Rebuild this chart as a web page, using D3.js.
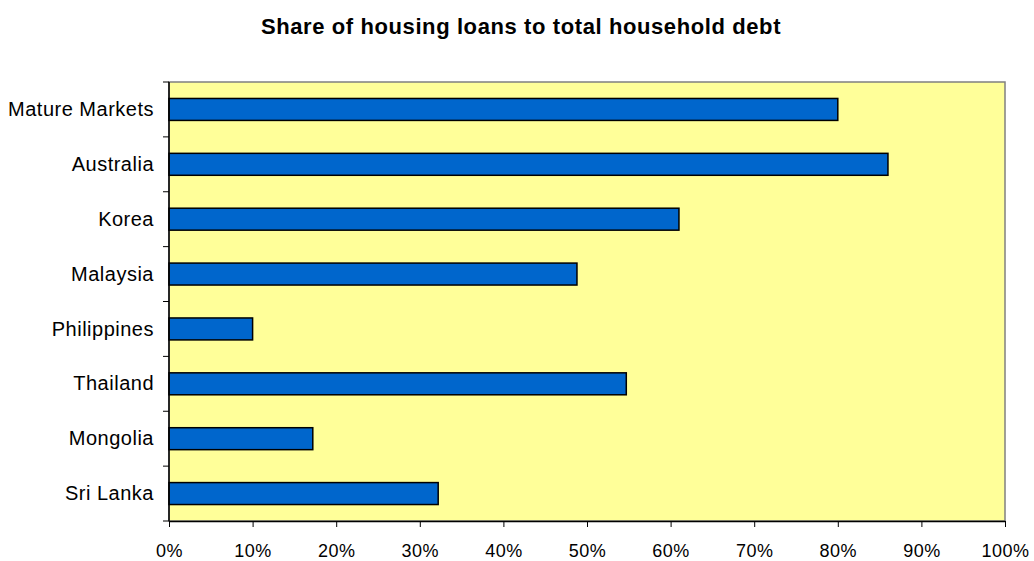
<!DOCTYPE html>
<html>
<head>
<meta charset="utf-8">
<script src="https://cdn.jsdelivr.net/npm/d3@7"></script>
<style>
  body { margin: 0; background: #fff; }
  text { font-family: "Liberation Sans", Arial, sans-serif; }
</style>
</head>
<body>
<div id="chart"></div>
<script>
// données
const categories = ["Mature Markets", "Australia", "Korea", "Malaysia", "Philippines", "Thailand", "Mongolia", "Sri Lanka"];
const values = [80, 86, 61, 48.8, 10, 54.7, 17.2, 32.2];
const xTicks = [0, 10, 20, 30, 40, 50, 60, 70, 80, 90, 100];

const width = 1034, height = 561;
const margin = { top: 82, right: 29, bottom: 40, left: 169 };
const innerW = width - margin.left - margin.right;
const innerH = height - margin.top - margin.bottom;

const svg = d3.select("#chart").append("svg")
    .attr("width", width).attr("height", height);

// titre
svg.append("text")
    .attr("x", 521).attr("y", 34)
    .attr("text-anchor", "middle")
    .style("font-size", "22px")
    .style("letter-spacing", "0.6px")
    .style("font-weight", "bold")
    .text("Share of housing loans to total household debt");

const g = svg.append("g").attr("transform", `translate(${margin.left},${margin.top})`);

const x = d3.scaleLinear().domain([0, 100]).range([0, innerW]);
const y = d3.scaleBand().domain(categories).range([0, innerH]).paddingInner(0.6).paddingOuter(0.3);
const yBands = d3.scaleBand().domain(categories).range([0, innerH]);

// fond
g.append("rect")
    .attr("width", innerW).attr("height", innerH)
    .attr("fill", "#ffff99")
    .attr("stroke", "#808080").attr("stroke-width", 1.5);

// barres
g.selectAll("rect.bar")
    .data(values)
    .enter().append("rect")
    .attr("class", "bar")
    .attr("x", 0)
    .attr("y", (d, i) => y(categories[i]))
    .attr("width", d => x(d))
    .attr("height", y.bandwidth())
    .attr("fill", "#0066cc")
    .attr("stroke", "#000")
    .attr("stroke-width", 1.5);

// axe x
const xAxis = g.append("g")
    .attr("transform", `translate(0,${innerH})`)
    .call(d3.axisBottom(x).tickValues(xTicks).tickFormat(d => d + "%").tickSize(6).tickSizeOuter(0));
xAxis.select(".domain").attr("stroke", "#000").attr("stroke-width", 1.5);
xAxis.selectAll(".tick line").attr("stroke", "#000");
xAxis.selectAll("text")
    .attr("y", 36).attr("dy", null)
    .style("font-size", "18px")
    .style("letter-spacing", "0.5px")
    .attr("fill", "#000");

// axe y : graduations entre les catégories
const yTickPos = categories.map(c => yBands(c)).concat([innerH]);
const yAxis = g.append("g");
yAxis.append("line")
    .attr("x1", 0).attr("x2", 0).attr("y1", 0).attr("y2", innerH)
    .attr("stroke", "#000").attr("stroke-width", 1.5);
yAxis.selectAll("line.tk")
    .data(yTickPos)
    .enter().append("line")
    .attr("class", "tk")
    .attr("x1", -6).attr("x2", 0)
    .attr("y1", d => d).attr("y2", d => d)
    .attr("stroke", "#000");
yAxis.selectAll("text")
    .data(categories)
    .enter().append("text")
    .attr("x", -15)
    .attr("y", d => yBands(d) + yBands.bandwidth() / 2)
    .attr("dy", "0.33em")
    .attr("text-anchor", "end")
    .style("font-size", "20px")
    .style("letter-spacing", "0.5px")
    .text(d => d);
</script>
</body>
</html>
